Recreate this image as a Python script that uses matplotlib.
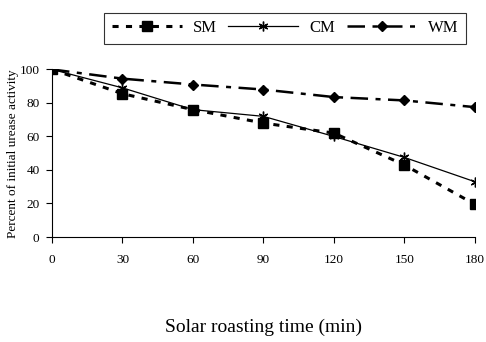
import numpy as np
import matplotlib.pyplot as plt

plt.rcParams['font.family'] = ['Liberation Serif', 'DejaVu Serif']

# data
time_min = [0, 30, 60, 90, 120, 150, 180]
sm = [100, 85.5, 76, 68, 62, 43, 19.5]
cm = [100, 89, 76, 72, 60, 47.5, 33]
wm = [100, 94.5, 91, 88, 83.5, 81.5, 77.5]

fig = plt.figure(figsize=(4.86, 3.42), dpi=100)
ax = fig.add_axes([0.107, 0.307, 0.87, 0.49])

ax.plot(time_min, sm, linestyle=(0, (2, 2.4)), color='black', lw=2.2,
        marker='s', ms=6.5, label='SM')
ax.plot(time_min, cm, linestyle='-', color='black', lw=0.9,
        marker=(6, 2, 0), ms=7, mew=1.0, label='CM')
ax.plot(time_min, wm, linestyle=(0, (7, 3, 2, 3)), color='black', lw=1.8,
        marker='D', ms=5, label='WM')

ax.set_xlim(0, 180)
ax.set_ylim(0, 100)
ax.set_xticks(time_min)
ax.set_yticks([0, 20, 40, 60, 80, 100])
ax.spines['top'].set_visible(False)
ax.spines['right'].set_visible(False)
ax.tick_params(labelsize=9.5, length=4, width=0.8, direction='out', pad=5)
ax.tick_params(axis='x', pad=8)
ax.set_ylabel('Percent of initial urease activity', fontsize=9.5)
ax.yaxis.set_label_coords(-0.078, 0.5)
ax.set_xlabel('Solar roasting time (min)', fontsize=14)
ax.xaxis.set_label_coords(0.5, -0.49)

leg = fig.legend(loc='upper left', bbox_to_anchor=(0.215, 0.963), ncol=3,
                 fontsize=12, frameon=True, fancybox=False, edgecolor='black',
                 handlelength=4.2, columnspacing=0.7, handletextpad=0.65,
                 borderpad=0.45, borderaxespad=0)
leg.get_frame().set_linewidth(0.8)

fig.savefig('out.png', dpi=100)
